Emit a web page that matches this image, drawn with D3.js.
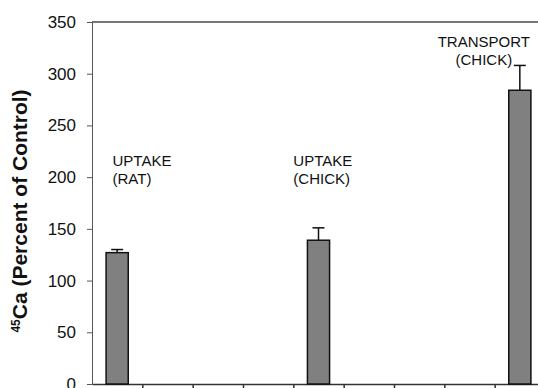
<!DOCTYPE html>
<html>
<head>
<meta charset="utf-8">
<script src="https://cdn.jsdelivr.net/npm/d3@7"></script>
<style>
  body { margin: 0; background: #fff; }
  svg { display: block; font-family: "Liberation Sans", Arial, sans-serif; }
</style>
</head>
<body>
<div id="chart"></div>
<script>
// data (9 slots on the x axis, bars in 3 of them)
var slots = [0, 1, 2, 3, 4, 5, 6, 7, 8];
var values = [127, null, null, null, 139, null, null, null, 284];
var errors = [3, null, null, null, 12, null, null, null, 24];
var barLabels = [
  {slot: 0, lines: ["UPTAKE", "(RAT)"], align: "start"},
  {slot: 4, lines: ["UPTAKE", "(CHICK)"], align: "start"},
  {slot: 8, lines: ["TRANSPORT", "(CHICK)"], align: "middle"}
];
var yTicks = [0, 50, 100, 150, 200, 250, 300, 350];

var width = 538, height = 388;

var svg = d3.select("#chart")
  .append("svg")
    .attr("width", width)
    .attr("height", height);

// x: slot boundaries (ticks sit between slots)
var x = d3.scaleLinear()
  .domain([0, slots.length])
  .range([92, 545]);

var y = d3.scaleLinear()
  .domain([0, 350])
  .range([384, 22]);

var slotW = x(1) - x(0);
var barW = slotW * 0.44;

// top frame line
svg.append("line")
  .attr("x1", x(0)).attr("x2", width)
  .attr("y1", y(350)).attr("y2", y(350))
  .attr("stroke", "#777")
  .attr("stroke-width", 2);

// y axis
var yAxis = svg.append("g")
  .attr("transform", "translate(" + x(0) + ",0)")
  .call(d3.axisLeft(y).tickValues(yTicks).tickSize(5).tickPadding(11).tickSizeOuter(0));
yAxis.select(".domain").attr("stroke", "#555");
yAxis.selectAll(".tick line").attr("stroke", "#555");
yAxis.selectAll("text")
  .style("font-size", "17px")
  .attr("fill", "#111");

// x axis, ticks between slots, no labels
var xAxis = svg.append("g")
  .attr("transform", "translate(0," + y(0) + ")")
  .call(d3.axisBottom(x).tickValues(d3.range(1, slots.length)).tickFormat("").tickSize(5).tickSizeOuter(0));
xAxis.select(".domain").attr("stroke", "#333").attr("stroke-width", 1.5);
xAxis.selectAll(".tick line").attr("stroke", "#333").attr("stroke-width", 1.5);

var bars = slots.filter(function(i) { return values[i] != null; });

// error bars (upper only)
svg.append("g")
  .selectAll("g")
  .data(bars)
  .enter().append("g")
  .each(function(i) {
    var g = d3.select(this);
    var cx = x(i + 0.5);
    g.append("line")
      .attr("x1", cx).attr("x2", cx)
      .attr("y1", y(values[i])).attr("y2", y(values[i] + errors[i]))
      .attr("stroke", "#111").attr("stroke-width", 1.5);
    g.append("line")
      .attr("x1", cx - 6).attr("x2", cx + 6)
      .attr("y1", y(values[i] + errors[i])).attr("y2", y(values[i] + errors[i]))
      .attr("stroke", "#111").attr("stroke-width", 1.5);
  });

// bars
svg.append("g")
  .selectAll("rect")
  .data(bars)
  .enter().append("rect")
    .attr("x", function(i) { return x(i + 0.5) - barW / 2; })
    .attr("y", function(i) { return y(values[i]); })
    .attr("width", barW)
    .attr("height", function(i) { return y(0) - y(values[i]); })
    .attr("fill", "#808080")
    .attr("stroke", "#111")
    .attr("stroke-width", 1.5);

// bar labels
var labelPos = {
  0: {x: x(0) + 20.5, y: 166},
  4: {x: x(4) + 0, y: 166},
  8: {x: x(8.5) - 36, y: 47}
};
barLabels.forEach(function(d) {
  var t = svg.append("text")
    .attr("x", labelPos[d.slot].x)
    .attr("y", labelPos[d.slot].y)
    .attr("text-anchor", d.align)
    .style("font-size", "15px")
    .attr("fill", "#111");
  d.lines.forEach(function(s, k) {
    t.append("tspan")
      .attr("x", labelPos[d.slot].x)
      .attr("dy", k == 0 ? 0 : 18)
      .text(s);
  });
});

// y axis title
var yt = svg.append("text")
  .attr("transform", "translate(27,211) rotate(-90)")
  .attr("text-anchor", "middle")
  .style("font-size", "21px")
  .style("font-weight", "bold")
  .attr("fill", "#111");
yt.append("tspan")
  .style("font-size", "12px")
  .attr("dy", -7)
  .text("45");
yt.append("tspan")
  .attr("dy", 7)
  .text("Ca (Percent of Control)");
</script>
</body>
</html>
